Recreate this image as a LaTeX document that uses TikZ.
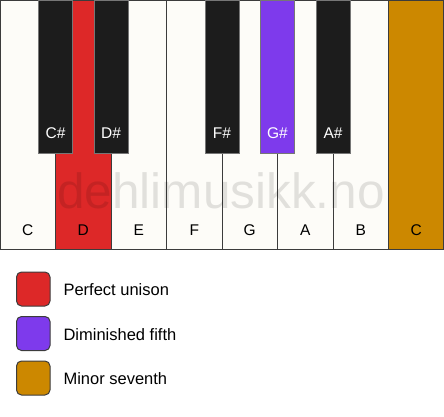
\documentclass[tikz,border=0pt]{standalone}
\usepackage{fontspec}
\setmainfont{Liberation Sans}
\definecolor{keywhite}{RGB}{253,252,248}
\definecolor{keyblack}{RGB}{28,28,28}
\definecolor{keyline}{RGB}{60,60,60}
\definecolor{unisonred}{RGB}{221,40,40}
\definecolor{fifthpurple}{RGB}{126,58,236}
\definecolor{seventhgold}{RGB}{204,136,0}

\begin{document}
\begin{tikzpicture}[%
        x = 1pt, y = -1pt,
        whitekey/.style = {draw=keyline, line width=1pt, fill=keywhite},
        blackkey/.style = {draw=keyline!70, line width=1pt, fill=keyblack},
        swatch/.style = {draw=keyline, line width=1pt, rounded corners=5pt},
        lowlabel/.style = {font=\fontsize{15.5}{18}\selectfont, text=black},
        highlabel/.style = {font=\fontsize{15.5}{18}\selectfont, text=white},
        legendtext/.style = {font=\fontsize{16.5}{19}\selectfont, anchor=west}
    ]
      \useasboundingbox (0,0) rectangle (444,417);
      % white keys
      \draw[whitekey] (0.5,0.5) rectangle (55.5,249.5);
      \draw[whitekey, fill=unisonred] (55.5,0.5) rectangle (111,249.5);
      \draw[whitekey] (111,0.5) rectangle (166.5,249.5);
      \draw[whitekey] (166.5,0.5) rectangle (222,249.5);
      \draw[whitekey] (222,0.5) rectangle (277.5,249.5);
      \draw[whitekey] (277.5,0.5) rectangle (333,249.5);
      \draw[whitekey] (333,0.5) rectangle (388.5,249.5);
      \draw[whitekey, fill=seventhgold] (388.5,0.5) rectangle (443.5,249.5);
      % watermark
      \node[font=\fontsize{49.5}{52}\selectfont, text=black, text opacity=0.11, anchor=base] (mark) at (221,208) {dehlimusikk.no};
      % black keys
      \draw[blackkey] (38.5,0.5) rectangle (72.5,153);
      \draw[blackkey] (94,0.5) rectangle (128,153);
      \draw[blackkey] (205,0.5) rectangle (239,153);
      \draw[blackkey, fill=fifthpurple] (260.5,0.5) rectangle (294.5,153);
      \draw[blackkey] (316,0.5) rectangle (350,153);
      % key names
      \node[lowlabel] (c) at (27.75,230) {C};
      \node[lowlabel] (d) at (83.25,230) {D};
      \node[lowlabel] (e) at (138.75,230) {E};
      \node[lowlabel] (f) at (194.25,230) {F};
      \node[lowlabel] (g) at (249.75,230) {G};
      \node[lowlabel] (a) at (305.25,230) {A};
      \node[lowlabel] (b) at (360.75,230) {B};
      \node[lowlabel] (c2) at (416.25,230) {C};
      \node[highlabel] (cis) at (55.5,133) {C\#};
      \node[highlabel] (dis) at (111,133) {D\#};
      \node[highlabel] (fis) at (222,133) {F\#};
      \node[highlabel] (gis) at (277.5,133) {G\#};
      \node[highlabel] (ais) at (333,133) {A\#};
      % legend
      \draw[swatch, fill=unisonred] (16.5,272) rectangle (50,306);
      \draw[swatch, fill=fifthpurple] (16.5,316.5) rectangle (50,350.5);
      \draw[swatch, fill=seventhgold] (16.5,361) rectangle (50,395);
      \node[legendtext] (unison) at (60,290) {Perfect unison};
      \node[legendtext] (fifth) at (60,334.5) {Diminished fifth};
      \node[legendtext] (seventh) at (60,379) {Minor seventh};
    \end{tikzpicture}
\end{document}
